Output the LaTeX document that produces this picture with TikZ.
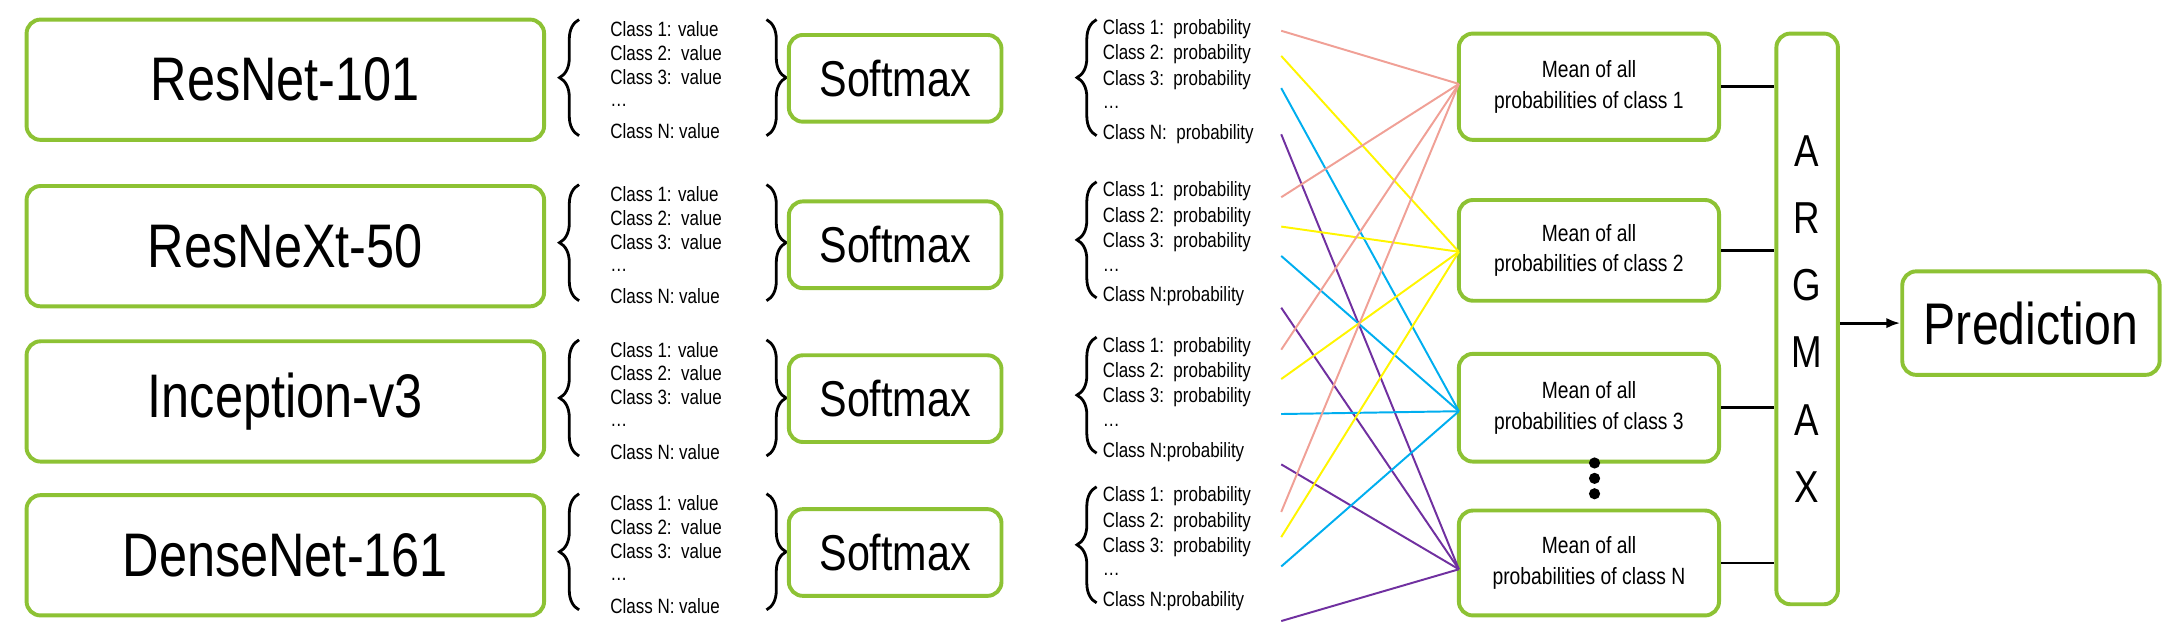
\documentclass[tikz,border=0pt]{standalone}
\usepackage{fontspec}
\setmainfont{Liberation Sans}[FakeStretch=0.82]
\usetikzlibrary{decorations.pathreplacing,arrows.meta}
\definecolor{gr}{RGB}{141,194,52}
\definecolor{pk}{RGB}{240,160,150}
\definecolor{ye}{RGB}{255,245,0}
\definecolor{bl}{RGB}{0,174,239}
\definecolor{pu}{RGB}{112,48,160}
\begin{document}
\begin{tikzpicture}[x=0.5pt,y=-0.5pt,
 box/.style={draw=gr,line width=1.4pt,rounded corners=5pt,fill=white,inner sep=0pt,align=center},
 sm/.style={font=\fontsize{7.4}{8}\selectfont,anchor=west,inner sep=0pt},
 br/.style={decorate,decoration={brace,amplitude=7pt},line width=1pt},
 cl/.style={line width=0.7pt}]
\useasboundingbox (0,0) rectangle (1550,455);
% models
\foreach \n/\t/\yc in {m1/ResNet-101/57,m2/ResNeXt-50/176,m3/Inception-v3/287,m4/DenseNet-161/397}{
 \node[box,minimum width=185pt,minimum height=43pt,font=\fontsize{22}{24}\selectfont] (\n) at (204,\yc) {\t};
}
% value lists and softmax
\foreach \i/\top/\yc in {1/14/56,2/132/175,3/243/285,4/353/395}{
 \node[sm] (v\i a) at (436,\top+7) {Class 1: value};
 \node[sm] (v\i b) at (436,\top+24) {Class 2:\ \ value};
 \node[sm] (v\i c) at (436,\top+41) {Class 3:\ \ value};
 \node[sm] (v\i d) at (436,\top+61) {\dots};
 \node[sm] (v\i e) at (436,\top+80) {Class N: value};
 \draw[br] (414,\top+83) -- (414,\top);
 \draw[br] (548,\top) -- (548,\top+83);
 \node[box,minimum width=76pt,minimum height=31pt,font=\fontsize{18}{20}\selectfont] (s\i) at (640,\yc) {Softmax};
}
% probability lists
\foreach \i/\top/\p in {1/14/{Class N:\ \ probability},2/130/{Class N:probability},3/241/{Class N:probability},4/348/{Class N:probability}}{
 \node[sm] (p\i a) at (788,\top+7) {Class 1:\ \ probability};
 \node[sm] (p\i b) at (788,\top+25) {Class 2:\ \ probability};
 \node[sm] (p\i c) at (788,\top+43) {Class 3:\ \ probability};
 \node[sm] (p\i d) at (788,\top+63) {\dots};
 \node[sm] (p\i e) at (788,\top+82) {\p};
 \draw[br] (784,\top+83) -- (784,\top);
}
% mean boxes
\foreach \n/\c/\t/\b in {a1/1/24/100,a2/2/143/215,a3/3/253/330,a4/N/365/440}{
 \node[box,minimum width=93pt,minimum height={(\b-\t)*0.5pt},font=\fontsize{8.4}{11}\selectfont] (\n) at (1136,{(\t+\b)/2}) {Mean of all\\probabilities of class \c};
}
\node[box,minimum width=22pt,minimum height=204pt,font=\fontsize{16}{24}\selectfont] (arg) at (1292,228) {A\\R\\G\\M\\A\\X};
\node[box,minimum width=92pt,minimum height=37pt,font=\fontsize{21}{24}\selectfont] (pred) at (1452,231) {Prediction};
\foreach \d in {331,342,353} \fill (1140,\d) circle (2pt);
% colored connectors
\coordinate (t1) at (1043,60); \coordinate (t2) at (1043,180);
\coordinate (t3) at (1043,294); \coordinate (t4) at (1043,407);
\foreach \i/\ya/\yb/\yc/\yd in {1/22/40/63/96,2/141/162/183/220,3/250/271/296/332,4/366/384/405/444}{
 \coordinate (q\i a) at (916,\ya); \coordinate (q\i b) at (916,\yb);
 \coordinate (q\i c) at (916,\yc); \coordinate (q\i d) at (916,\yd);
 \draw[cl,pk] (q\i a) -- (t1);
 \draw[cl,ye] (q\i b) -- (t2);
 \draw[cl,bl] (q\i c) -- (t3);
 \draw[cl,pu] (q\i d) -- (t4);
}
\foreach \n in {a1,a2,a3,a4} \draw[line width=1pt] (\n.east) -- (\n.east -| arg.west);
\draw[line width=1pt,-{Latex[length=5pt]}] (arg.east |- pred.west) -- (pred.west);
\end{tikzpicture}
\end{document}
